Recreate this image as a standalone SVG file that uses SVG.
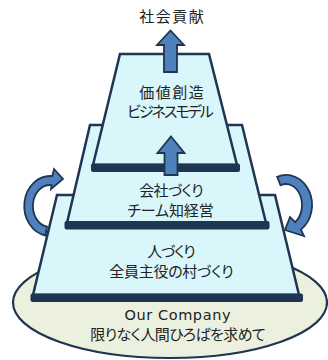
<svg xmlns="http://www.w3.org/2000/svg" width="328" height="360" viewBox="0 0 328 360">
<style>
.tier{fill:#D9F6FB;stroke:#1F3552;stroke-width:2.5;stroke-linejoin:miter}
.bar{fill:#1F3552}
.base{fill:#EBF1DE;stroke:#1F3552;stroke-width:2.2}
.arr{fill:#4F81BD;stroke:#1F3552;stroke-width:1.8;stroke-linejoin:miter}
.jp{font-family:"Noto Sans CJK JP","Noto Sans",sans-serif;font-size:15px;fill:#222;text-anchor:middle;font-feature-settings:"palt"}
.en{font-family:"DejaVu Sans","Noto Sans CJK JP",sans-serif;font-size:14.5px;fill:#222;text-anchor:middle}
</style>
<rect width="328" height="360" fill="#FFFFFF"/>
<g id="base">
<ellipse class="base" cx="170" cy="302.5" rx="157" ry="55.5"/>
</g>
<g id="tier-bottom">
<polygon class="tier" points="57,195 275,195 299,295 33,295"/>
<rect class="bar" x="30.5" y="293.5" width="272.5" height="8.5" rx="2"/>
<text class="jp" x="171.5" y="257" textLength="48.5">人づくり</text>
<text class="jp" x="171.5" y="277" textLength="124.5">全員主役の村づくり</text>
</g>
<g id="tier-middle">
<polygon class="tier" points="90,125 242,125 266,223 67,223"/>
<rect class="bar" x="64.5" y="221" width="205" height="8.5" rx="2"/>
<text class="jp" x="171.5" y="196" textLength="64.5">会社づくり</text>
<text class="jp" x="170.5" y="216" textLength="86.5">チーム知経営</text>
</g>
<g id="tier-top">
<polygon class="tier" points="120,54 209,54 237,165 93,165"/>
<rect class="bar" x="91" y="163.5" width="149" height="8.5" rx="2"/>
<text class="jp" x="171.5" y="98" textLength="64.5">価値創造</text>
<text class="jp" x="170.5" y="117" textLength="86.5">ビジネスモデル</text>
</g>
<g id="goal">
<text class="jp" x="171.5" y="22" textLength="64.5">社会貢献</text>
</g>
<g id="base-label">
<text class="en" x="177.5" y="320" textLength="106">Our Company</text>
<text class="jp" x="178" y="340" textLength="175.5">限りなく人間ひろばを求めて</text>
</g>
<g id="connectors">
<path class="arr" d="M45.5,235.5 A26,30 0 0 1 52.3,176.1 L54,169 L63,179 L51,189 L51.5,185.1 A17,21 0 0 0 47,226.7 Z"/>
<path class="arr" d="M277.1,176.8 A26,30 0 0 1 300.9,229.6 L304,236 L285,230 L290,217 L295.2,222.2 A16,21 0 0 0 280.5,185.3 Z"/>
<path class="arr" d="M170.5,30.5 L184,45 L177,45 L177,72 L164,72 L164,45 L157,45 Z"/>
<path class="arr" d="M171,136.5 L184.5,153 L177.5,153 L177.5,175 L164.5,175 L164.5,153 L157.5,153 Z"/>
</g>
</svg>
